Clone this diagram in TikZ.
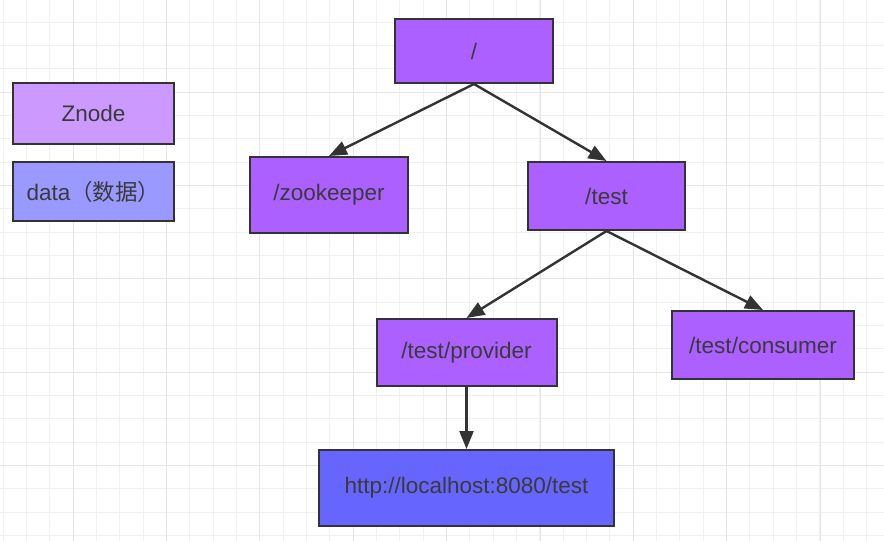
\documentclass[tikz,border=0pt]{standalone}
\usepackage{fontspec}
\setmainfont{Liberation Sans}
\newfontfamily\cjk{Noto Sans CJK SC}
\usetikzlibrary{arrows.meta}

\definecolor{inkgray}{HTML}{333333}
\definecolor{textgray}{HTML}{3A3A3A}
\definecolor{gridminor}{HTML}{F0F0F0}
\definecolor{gridmajor}{HTML}{E6E6E6}
\definecolor{znodefill}{HTML}{AC60FF}
\definecolor{znodelight}{HTML}{CC99FF}
\definecolor{datalight}{HTML}{9999FF}
\definecolor{datafill}{HTML}{6666FF}

\begin{document}
\begin{tikzpicture}[x=1pt, y=-1pt, >={Triangle[length=18pt,width=14pt]},
  font=\fontsize{22.5}{26}\selectfont,
  box/.style={draw=inkgray, line width=2pt, text=textgray, inner sep=0pt},
  znode/.style={box, fill=znodefill},
  link/.style={->, draw=inkgray, line width=2.4pt}]
  % background grid
  \fill[white] (0,0) rectangle (884,541);
  \useasboundingbox (0,0) rectangle (884,541);
  \foreach \i in {0,...,37}
    \draw[gridminor, line width=1pt] ({3.33+23.333*\i},0) -- ({3.33+23.333*\i},541);
  \foreach \i in {1,...,23}
    \draw[gridminor, line width=1pt] (0,{-1.33+23.333*\i}) -- (884,{-1.33+23.333*\i});
  \foreach \i in {0,...,8}
    \draw[gridmajor, line width=1pt] ({73.33+93.333*\i},0) -- ({73.33+93.333*\i},541);
  \foreach \i in {0,...,4}
    \draw[gridmajor, line width=1pt] (0,{92+93.333*\i}) -- (884,{92+93.333*\i});

  % legend
  \node[box, fill=znodelight, minimum width=161pt, minimum height=61pt]
    (keyznode) at (93.5,113.5) {Znode};
  \node[box, fill=datalight, minimum width=161pt, minimum height=59pt]
    (keydata) at (93.5,191.5) {data{\cjk （数据）}};

  % tree
  \node[znode, minimum width=158pt, minimum height=64pt]
    (root) at (474,51) {/};
  \node[znode, minimum width=158pt, minimum height=76pt]
    (zookeeper) at (329,195) {/zookeeper};
  \node[znode, minimum width=157pt, minimum height=68pt]
    (test) at (606.5,196) {/test};
  \node[znode, minimum width=180pt, minimum height=67pt]
    (provider) at (466.5,352.5) {/test/provider};
  \node[znode, minimum width=182pt, minimum height=68pt]
    (consumer) at (763,345) {/test/consumer};
  \node[box, fill=datafill, minimum width=295pt, minimum height=76pt]
    (url) at (466.5,488) {http://localhost:8080/test};

  \draw[link] (root.south) -- (zookeeper.north);
  \draw[link] (root.south) -- (test.north);
  \draw[link] (test.south) -- (provider.north);
  \draw[link] (test.south) -- (consumer.north);
  \draw[link] (provider.south) -- (url.north);
\end{tikzpicture}
\end{document}
